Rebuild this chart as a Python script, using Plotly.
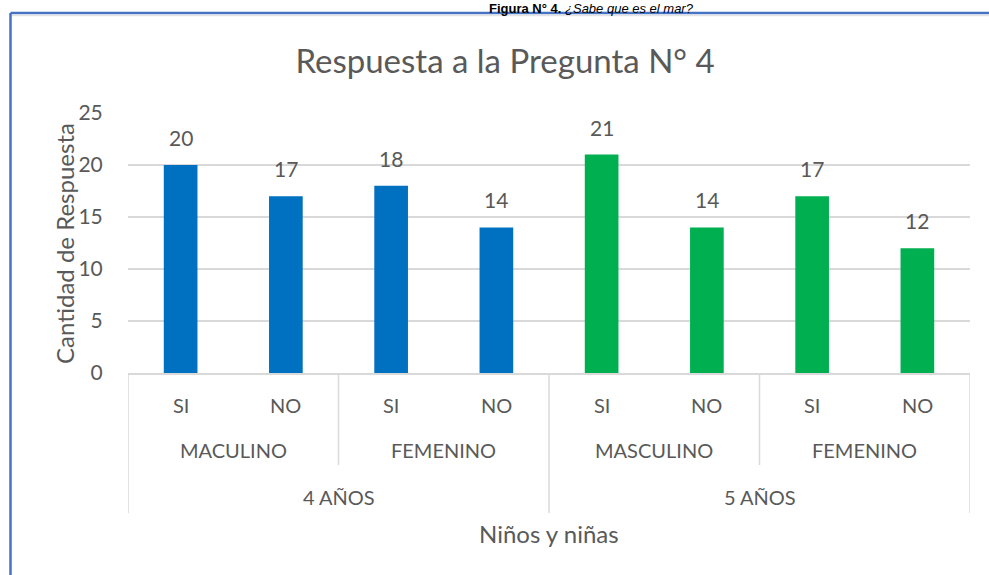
import plotly.graph_objects as go

ages = ["4 AÑOS", "4 AÑOS", "4 AÑOS", "4 AÑOS", "5 AÑOS", "5 AÑOS", "5 AÑOS", "5 AÑOS"]
genders = ["MACULINO", "MACULINO", "FEMENINO", "FEMENINO", "MASCULINO", "MASCULINO", "FEMENINO", "FEMENINO"]
answers = ["SI", "NO", "SI", "NO", "SI", "NO", "SI", "NO"]
values = [20, 17, 18, 14, 21, 14, 17, 12]
age_groups = ["4 AÑOS", "5 AÑOS"]
age_colors = {"4 AÑOS": "#0070C0", "5 AÑOS": "#00B050"}

title_text = "Respuesta a la Pregunta N° 4"
y_title = "Cantidad de Respuesta"
x_title = "Niños y niñas"
caption = "<b>Figura N° 4.</b> <i>¿Sabe que es el mar?</i>"

FONT = "Lato"
GREY = "#595959"
LINE = "#D9D9D9"

keys = [f"{a}|{g}|{r}|{i}" for i, (a, g, r) in enumerate(zip(ages, genders, answers))]
colors = [age_colors[a] for a in ages]

fig = go.Figure()
fig.add_trace(go.Bar(
    x=keys, y=values, marker=dict(color=colors, line=dict(width=0)),
    width=0.32, hoverinfo="y", showlegend=False,
))

L, R, T, B = 128, 19, 113, 202
W = 989 - L - R
H = 575 - T - B
ann = []
# data labels
for k, v in zip(keys, values):
    ann.append(dict(x=k, y=v, xref="x", yref="y", text=str(v), showarrow=False,
                    yanchor="bottom", yshift=13, font=dict(size=21, color=GREY, family=FONT)))
# answer labels
for k, r in zip(keys, answers):
    ann.append(dict(x=k, y=0, xref="x", yref="paper", text=r, showarrow=False,
                    yanchor="middle", yshift=-32, font=dict(size=20, color=GREY, family=FONT)))

# gender groups
n = len(keys)
i = 0
gender_bounds = []
while i < n:
    j = i
    while j + 1 < n and genders[j + 1] == genders[i] and ages[j + 1] == ages[i]:
        j += 1
    ann.append(dict(x=(i + j) / 2, y=0, xref="x", yref="paper", text=genders[i], showarrow=False,
                    yanchor="middle", yshift=-77, font=dict(size=20, color=GREY, family=FONT)))
    gender_bounds.append(j + 0.5)
    i = j + 1

# age groups
age_bounds = [-0.5]
for a in age_groups:
    idx = [t for t, x in enumerate(ages) if x == a]
    ann.append(dict(x=(idx[0] + idx[-1]) / 2, y=0, xref="x", yref="paper", text=a, showarrow=False,
                    yanchor="middle", yshift=-124, font=dict(size=20, color=GREY, family=FONT)))
    age_bounds.append(idx[-1] + 0.5)

# axis titles
ann.append(dict(x=0.5, y=0, xref="paper", yref="paper", text=x_title, showarrow=False,
                xanchor="center", yanchor="middle", yshift=-160,
                font=dict(size=24, color=GREY, family=FONT)))
ann.append(dict(x=0, y=(373 - 244) / H, xref="paper", yref="paper", text=y_title, showarrow=False,
                textangle=-90, xanchor="center", yanchor="middle", xshift=-64,
                font=dict(size=24, color=GREY, family=FONT)))
# caption above the chart frame
ann.append(dict(x=(591 - L) / W, y=(373 - 0) / H, xref="paper", yref="paper", text=caption,
                showarrow=False, yanchor="top", xanchor="center", borderpad=0,
                font=dict(size=13, color="#000000", family="Liberation Sans")))

shapes = []
for b in age_bounds:
    shapes.append(dict(type="line", xref="x", yref="paper", x0=b, x1=b, y0=0, y1=-140 / H,
                       line=dict(color=LINE, width=1.5)))
for b in gender_bounds:
    if b not in age_bounds:
        shapes.append(dict(type="line", xref="x", yref="paper", x0=b, x1=b, y0=0, y1=-92 / H,
                           line=dict(color=LINE, width=1.5)))
# outer frame (blue border of the embedded chart)
fx = (10.5 - L) / W
fy = (373 - 13) / H
shapes.append(dict(type="line", xref="paper", yref="paper", x0=fx, x1=fx,
                   y0=fy, y1=-(575 - 373) / H, line=dict(color="#4472C4", width=2.5)))
shapes.append(dict(type="line", xref="paper", yref="paper", x0=fx, x1=(989 - L) / W,
                   y0=fy, y1=fy, line=dict(color="#4472C4", width=2.5)))
shapes.append(dict(type="line", xref="paper", yref="paper", x0=(12 - L) / W, x1=(989 - L) / W,
                   y0=(373 - 15.5) / H, y1=(373 - 15.5) / H, line=dict(color="#E3E3E3", width=1.5)))

fig.update_layout(
    width=989, height=575,
    margin=dict(l=L, r=R, t=T, b=B),
    paper_bgcolor="white", plot_bgcolor="white",
    title=dict(text=title_text, x=505 / 989, xref="container", xanchor="center",
               y=1 - 61 / 575, yref="container", yanchor="middle",
               font=dict(size=33, color=GREY, family=FONT)),
    xaxis=dict(type="category", showticklabels=False, showgrid=False, zeroline=False,
               showline=True, linecolor=LINE, linewidth=1.5, ticks="", range=[-0.5, n - 0.5]),
    yaxis=dict(range=[0, 25], dtick=5, showgrid=True, gridcolor=LINE, gridwidth=1.5,
               zeroline=False, showline=False, ticks="outside", ticklen=20, tickcolor="rgba(0,0,0,0)",
               tickfont=dict(size=21, color=GREY, family=FONT)),
    annotations=ann, shapes=shapes, bargap=0.68,
)

fig.write_html("out.html", config={"displayModeBar": False},
               post_script="document.body.style.margin='0';document.body.style.overflow='hidden';")
